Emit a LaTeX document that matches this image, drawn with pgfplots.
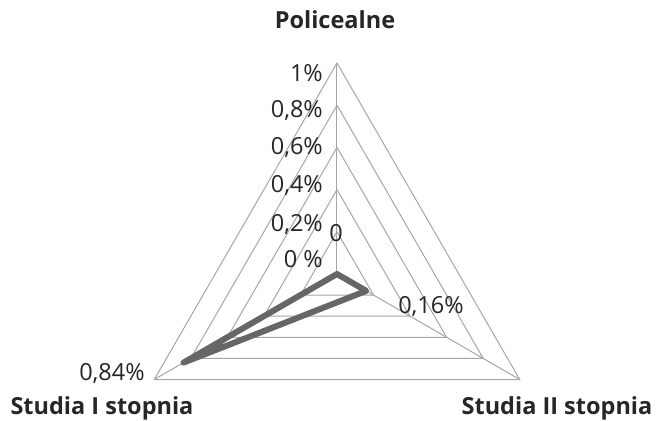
\documentclass[border=0pt]{standalone}
\usepackage{fontspec}
\setmainfont{Open Sans}
\usepackage{pgfplots}
\usepgfplotslibrary{polar}
\pgfplotsset{compat=1.18}
\definecolor{gridc}{HTML}{A6A6A6}
\definecolor{linec}{HTML}{666666}
\definecolor{txt}{HTML}{262626}

\begin{document}
\begin{tikzpicture}[x=1pt,y=1pt]
\begin{polaraxis}[
  at={(0,0)}, anchor=center,
  width=422pt, height=422pt, scale only axis,
  ymin=0, ymax=1, xmin=0, xmax=360,
  hide axis, clip=false,
]
% rings
\foreach \r in {0.2,0.4,0.6,0.8,1} {
  \edef\tmp{\noexpand\addplot[gridc, line width=1pt, no marks]
    coordinates {(90,\r) (210,\r) (330,\r) (90,\r)};}
  \tmp
}
% spokes
\addplot[gridc, line width=1pt, no marks] coordinates {(90,0) (90,1)};
\addplot[gridc, line width=1pt, no marks] coordinates {(210,0) (210,1)};
\addplot[gridc, line width=1pt, no marks] coordinates {(330,0) (330,1)};
% data: Policealne, Studia II stopnia, Studia I stopnia
\addplot[linec, line width=6pt, no marks, line join=round, line cap=round]
  coordinates {(90,0) (330,0.16) (210,0.84) (90,0)};
\end{polaraxis}

\begin{scope}[every node/.style={text=txt, font=\fontsize{23.5}{28}\selectfont, inner sep=0pt}]
  \node[anchor=base east] at (-14,192) {1\%};
  \node[anchor=base east] at (-14,156) {0,8\%};
  \node[anchor=base east] at (-14,119) {0,6\%};
  \node[anchor=base east] at (-14,81) {0,4\%};
  \node[anchor=base east] at (-14,42) {0,2\%};
  \node[anchor=base east] at (-14,6) {0 \%};
  \node[anchor=base] at (-1,32) {0};
  \node[anchor=base] at (94,-39) {0,16\%};
  \node[anchor=base] at (-225,-106) {0,84\%};
  \node[anchor=base, font=\fontsize{23.5}{28}\selectfont\bfseries] at (-2,245) {Policealne};
  \node[anchor=base, font=\fontsize{23.5}{28}\selectfont\bfseries] at (-235,-140) {Studia I stopnia};
  \node[anchor=base, font=\fontsize{23.5}{28}\selectfont\bfseries] at (220,-140) {Studia II stopnia};
\end{scope}

\pgfresetboundingbox
\path[use as bounding box] (-337,-146) rectangle (321,274);
\end{tikzpicture}
\end{document}
